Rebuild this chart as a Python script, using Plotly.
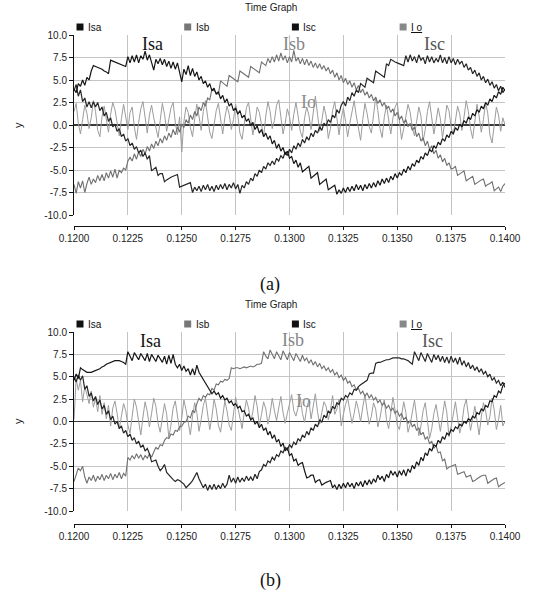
import plotly.graph_objects as go

# ---------------- data (sampled every 0.1 ms from t = 0.12 s) ----------------
T_START = 0.12
T_STEP = 0.0001

SERIES_NAMES = ["Isa", "Isb", "Isc", "I o"]

# ---- panel (a) ----
ISA_A = [4.0, 3.6, 4.6, 4.3, 5.0, 4.4, 5.3, 5.0, 6.0, 6.6, 6.5, 6.4, 6.3, 6.2, 6.0, 5.9, 5.7, 7.2, 7.1, 7.0, 6.9, 6.8, 6.7, 6.6, 6.5,
         7.6, 6.9, 7.7, 7.0, 7.8, 6.9, 7.7, 7.3, 8.2, 7.2, 7.8, 7.0, 6.1, 7.3, 6.8, 7.4, 6.7, 7.3, 6.5, 7.1, 6.3, 7.0, 6.2, 6.9, 5.9,
         4.8, 6.2, 5.6, 6.6, 5.5, 6.3, 5.4, 5.9, 5.0, 5.4, 4.6, 4.9, 4.2, 4.6, 3.8, 4.1, 3.4, 3.7, 2.9, 3.3, 2.5, 2.9, 2.1, 2.4, 1.6,
         1.9, 1.2, 1.6, 0.8, 1.1, 0.4, 0.7, -0.1, 0.3, -0.5, -0.1, -0.9, -0.5, -1.3, -0.9, -1.6, -1.2, -2.1, -1.7, -2.6, -2.1, -2.9, -2.5, -3.3, -2.9,
         -3.7, -3.5, -4.3, -3.9, -4.7, -4.2, -5.2, -5.0, -4.8, -4.6, -5.9, -5.7, -5.5, -5.3, -6.6, -6.4, -6.2, -6.0, -7.2, -7.0, -6.8, -6.7, -7.7, -7.2, -7.6,
         -7.0, -7.5, -6.9, -7.4, -6.8, -7.3, -6.6, -7.2, -6.7, -7.3, -6.6, -7.1, -6.5, -7.0, -6.4, -6.9, -6.2, -6.7, -6.0, -6.5, -5.9, -6.4, -5.7, -6.1, -5.4,
         -5.9, -5.3, -5.6, -4.9, -5.3, -4.6, -5.0, -4.3, -4.6, -3.9, -4.2, -3.5, -3.8, -3.1, -3.4, -2.7, -3.0, -2.3, -2.6, -1.9, -2.2, -1.5, -1.8, -1.1, -1.4,
         -0.7, -1.0, -0.3, -0.6, 0.1, -0.2, 0.5, 0.2, 0.9, 0.6, 1.3, 1.0, 1.7, 1.4, 2.1, 1.8, 2.5, 2.2, 2.9, 2.6, 3.3, 3.0, 3.7, 3.4, 4.2, 3.8]

ISB_A = [-6.6, -7.6, -6.3, -7.0, -6.2, -7.5, -6.5, -5.8, -6.6, -6.0, -6.4, -5.6, -6.2, -5.5, -6.2, -5.3, -5.9, -5.1, -5.8, -4.9, -5.9, -5.0, -5.3, -4.8, -5.0,
         -4.0, -3.6, -4.0, -3.2, -3.8, -3.0, -3.5, -2.7, -3.2, -2.4, -2.9, -2.1, -2.6, -1.8, -2.3, -1.5, -2.0, -1.2, -1.7, -0.9, -1.4, -0.5, -1.1, -0.2, -0.8,
         0.1, -0.3, 0.6, 0.2, 1.1, 0.6, 1.5, 1.0, 2.0, 1.6, 2.5, 2.1, 3.0, 2.8, 4.0, 3.8, 3.6, 3.4, 4.9, 4.7, 4.5, 4.3, 5.5, 5.3, 5.1,
         4.9, 4.8, 6.0, 5.8, 5.6, 5.4, 5.3, 6.5, 6.3, 6.1, 6.0, 5.8, 7.0, 6.8, 6.6, 7.4, 6.9, 7.6, 7.0, 7.8, 7.1, 8.0, 7.2, 7.7, 6.9,
         7.6, 7.0, 8.3, 7.1, 7.5, 6.8, 7.4, 6.7, 7.3, 6.6, 7.1, 6.4, 6.9, 6.3, 6.8, 6.2, 6.6, 6.0, 6.4, 5.7, 6.1, 5.3, 5.8, 5.0, 5.5,
         4.7, 5.2, 4.5, 4.9, 4.2, 4.7, 3.9, 4.4, 3.6, 4.0, 3.3, 3.7, 3.0, 3.4, 2.7, 3.1, 2.4, 2.8, 2.1, 2.5, 1.8, 2.1, 1.4, 1.8, 1.0,
         1.4, 0.6, 1.0, 0.2, 0.6, -0.2, 0.2, -0.6, -0.2, -1.3, -0.9, -1.8, -1.4, -2.3, -1.8, -2.7, -2.3, -3.2, -2.8, -3.7, -3.3, -4.1, -3.7, -4.5, -4.2,
         -4.9, -4.8, -4.6, -5.6, -5.4, -5.2, -5.1, -6.2, -6.0, -5.9, -5.7, -6.6, -6.4, -6.3, -6.1, -6.0, -6.8, -6.6, -6.5, -6.3, -7.3, -7.1, -6.9, -7.4, -6.8, -6.5]

ISC_A = [3.8, 4.5, 3.2, 3.9, 2.6, 3.0, 2.0, 2.6, 1.9, 2.6, 2.0, 2.5, 1.6, 2.0, 1.0, 1.4, 0.4, 0.8, -0.2, 0.1, -0.7, -0.4, -1.3, -1.0, -1.8,
         -1.5, -2.3, -2.0, -2.7, -2.4, -3.1, -2.8, -3.5, -3.1, -3.8, -3.4, -5.1, -4.9, -4.7, -5.6, -5.4, -5.4, -6.3, -6.1, -5.9, -5.8, -5.7, -5.6, -5.5, -6.9,
         -6.8, -6.7, -6.6, -6.5, -6.4, -7.5, -6.9, -7.3, -6.8, -7.4, -6.7, -7.2, -6.6, -7.3, -6.8, -7.4, -6.7, -7.2, -6.6, -7.1, -6.5, -7.2, -6.6, -7.0, -6.4,
         -7.1, -6.6, -7.6, -6.7, -7.0, -6.3, -6.6, -5.9, -6.2, -5.4, -5.7, -5.0, -5.3, -4.6, -4.9, -4.2, -4.5, -4.0, -4.4, -3.7, -4.0, -3.4, -3.7, -3.0, -3.4,
         -2.7, -3.1, -2.3, -2.7, -2.0, -2.4, -1.6, -2.0, -1.3, -1.7, -0.9, -1.3, -0.6, -0.9, -0.2, -0.6, 0.2, -0.1, 0.6, 0.3, 1.1, 0.8, 1.7, 1.3, 2.2,
         2.6, 2.1, 3.1, 2.7, 3.6, 3.2, 3.9, 3.6, 4.6, 4.4, 4.2, 5.2, 5.0, 4.8, 4.7, 6.0, 5.8, 5.6, 5.5, 5.3, 6.8, 6.6, 7.3, 7.1, 7.0,
         6.9, 6.8, 6.7, 6.6, 7.7, 7.0, 7.8, 7.1, 7.6, 6.9, 7.8, 7.2, 7.5, 6.8, 7.7, 7.0, 7.6, 6.9, 7.4, 7.0, 7.8, 6.9, 7.5, 6.8, 7.6,
         6.9, 7.4, 6.7, 7.3, 6.8, 7.1, 6.4, 6.8, 6.1, 6.4, 5.7, 6.1, 5.4, 5.8, 5.0, 5.4, 4.7, 5.1, 4.4, 4.8, 4.1, 4.5, 3.8, 4.3, 3.6, 4.0]

IO_A = [1.5, 2.4, 0.2, -1.0, 0.6, 2.2, 1.3, -0.4, 0.8, 2.7, 1.5, -0.6, -1.3, 0.9, 2.1, 0.4, -0.8, 1.2, 2.5, 1.7, 0.1, -1.2, 0.7, 2.3, 0.9,
        -0.5, 1.4, 2.0, -0.2, -1.6, 0.3, 1.8, 2.6, 0.6, -0.9, 1.1, 2.2, 0.8, -0.4, -1.4, 0.5, 2.4, 1.2, -0.7, 0.6, 1.9, 2.5, 0.3, -1.1, 0.9,
        -3.0, 0.4, 2.0, 1.4, -0.3, -1.3, 0.7, 2.3, 1.0, -0.6, 1.5, 2.7, 0.9, -0.8, -1.5, 0.2, 1.6, 2.4, 0.5, -1.0, 0.8, 2.1, 1.2, -0.5, 0.6,
        2.3, 1.1, -0.9, -1.6, 0.4, 1.9, 2.5, 0.7, -1.1, 0.3, 2.0, 1.4, -0.2, -1.3, 1.0, 2.6, 1.5, -0.4, 0.5, 2.2, 2.8, 0.6, -1.0, 0.2, 1.8,
        0.9, -0.6, 1.2, 2.5, 1.0, -0.7, -1.4, 0.8, 2.0, 1.1, -0.5, 1.3, 3.2, 1.2, -0.7, 0.5, 2.1, 1.0, -1.5, -0.4, 1.6, 2.6, 0.9, -1.1, 0.7,
        1.9, 0.4, -1.3, 0.2, 1.7, 2.7, 1.0, -0.6, -1.7, 0.6, 2.4, 1.3, -0.2, -0.9, 1.2, 3.1, 1.6, -0.4, -1.4, 0.9, 2.2, 0.6, -1.0, 0.8, 2.0,
        2.5, 0.3, -1.6, -0.4, 1.1, 2.3, 1.4, -0.3, -1.2, 0.6, 2.0, 1.0, -1.8, -0.5, 1.5, 2.6, 0.8, -1.0, 0.4, 1.9, 0.7, -1.4, 0.2, 2.2, 1.6,
        -0.2, -1.1, 0.5, 2.1, 1.2, -0.6, 0.9, 2.7, 1.5, -0.4, -1.5, 0.3, 2.3, 1.0, -0.8, 0.6, 2.5, 1.3, -1.1, -2.0, 0.4, 2.0, 1.1, -0.7, 0.8, 0.0]

# ---- panel (b) ----
ISA_B = [4.6, 5.3, 4.8, 6.0, 5.8, 5.6, 5.5, 5.5, 5.5, 5.6, 5.7, 5.8, 5.9, 6.1, 6.2, 6.4, 6.5, 6.6, 6.7, 6.8, 6.8, 6.8, 6.7, 6.6, 6.4,
         7.8, 7.3, 6.8, 7.7, 7.3, 6.9, 7.6, 7.2, 6.8, 7.6, 6.7, 7.5, 7.1, 6.7, 7.4, 7.0, 6.6, 7.3, 6.4, 7.4, 6.5, 7.5, 6.4, 6.0, 6.4,
         5.7, 6.2, 5.6, 5.9, 5.2, 5.9, 5.2, 6.3, 5.5, 5.1, 4.8, 4.3, 4.0, 3.6, 3.1, 3.4, 3.0, 3.2, 2.6, 2.9, 2.4, 2.6, 2.1, 2.3, 1.8,
         2.0, 1.5, 1.7, 1.1, 1.2, 0.6, 0.8, 0.2, 0.4, -0.3, 0.0, -0.7, -0.3, -1.0, -0.7, -1.5, -1.1, -1.9, -1.5, -2.3, -2.0, -2.8, -2.4, -3.3, -2.9,
         -3.8, -3.6, -4.4, -4.2, -4.9, -4.7, -4.6, -5.5, -6.3, -6.2, -6.0, -6.0, -6.8, -6.6, -6.5, -7.1, -6.9, -6.8, -6.7, -6.6, -7.4, -7.1, -7.6, -7.0, -7.5,
         -6.9, -7.4, -6.8, -7.3, -6.9, -7.5, -6.8, -7.2, -6.7, -7.3, -6.6, -7.1, -6.5, -7.0, -6.4, -6.8, -6.0, -6.5, -6.1, -6.7, -5.9, -6.3, -5.5, -6.0, -5.6,
         -6.2, -5.5, -6.0, -5.4, -6.1, -5.3, -5.7, -4.9, -5.3, -4.5, -4.9, -4.0, -4.4, -3.5, -3.8, -3.0, -3.3, -2.6, -2.8, -2.1, -2.4, -1.7, -2.0, -1.3, -1.5,
         -0.9, -1.1, -0.6, -0.8, -0.3, -0.5, 0.0, -0.2, 0.3, 0.1, 0.6, 0.4, 1.0, 0.8, 1.4, 1.2, 1.8, 1.6, 2.3, 2.2, 2.9, 2.7, 3.4, 3.2, 4.0, 4.3]

ISB_B = [-6.7, -5.8, -5.2, -5.5, -5.0, -6.2, -6.9, -6.2, -6.6, -6.0, -6.7, -6.1, -6.5, -5.9, -6.6, -6.0, -6.4, -5.8, -6.5, -5.9, -6.3, -5.7, -6.4, -5.8, -6.1,
         -4.0, -4.3, -3.8, -4.2, -3.6, -4.1, -3.7, -4.3, -3.8, -4.1, -3.6, -4.0, -3.4, -2.9, -3.1, -2.6, -2.7, -2.1, -1.8, -1.9, -1.4, -1.5, -1.0, -1.1, -0.6,
         -0.5, -0.1, 0.0, 0.6, 0.4, 1.2, 1.0, 2.0, 2.6, 2.3, 2.9, 2.7, 3.1, 3.0, 3.7, 3.5, 4.2, 4.1, 4.5, 4.4, 4.7, 4.6, 4.8, 6.0, 5.9,
         6.0, 6.0, 5.9, 6.0, 6.1, 6.0, 6.1, 6.2, 6.1, 6.2, 6.4, 6.4, 6.5, 7.8, 7.3, 7.0, 8.0, 7.4, 7.0, 7.8, 7.3, 6.9, 7.9, 7.3, 6.9,
         7.7, 7.2, 6.8, 7.6, 7.1, 6.7, 7.4, 6.8, 7.1, 6.5, 6.9, 6.3, 6.7, 6.1, 6.5, 5.9, 6.2, 5.7, 6.0, 5.5, 5.8, 5.2, 5.5, 4.9, 5.2,
         4.6, 4.9, 4.3, 4.5, 3.9, 4.1, 3.5, 3.7, 3.1, 3.4, 2.8, 3.2, 2.6, 3.0, 2.4, 2.7, 2.1, 2.4, 1.8, 2.1, 1.5, 1.8, 1.2, 1.5, 0.9,
         1.2, 0.6, 0.9, 0.2, 0.5, -0.2, 0.1, -0.6, -0.3, -1.0, -0.7, -1.5, -1.2, -2.0, -1.7, -2.5, -2.2, -3.0, -2.7, -3.5, -3.4, -4.4, -4.2, -5.3, -5.1,
         -5.0, -4.9, -4.8, -5.9, -5.8, -5.7, -5.6, -6.2, -6.1, -6.0, -6.7, -6.6, -6.4, -6.2, -6.1, -6.0, -6.0, -6.9, -6.7, -6.5, -6.4, -6.3, -7.3, -7.1, -6.9, -6.8]

ISC_B = [5.0, 4.4, 5.2, 4.6, 5.1, 3.6, 4.0, 2.8, 3.2, 2.3, 2.8, 1.9, 2.4, 1.4, 1.8, 0.8, 1.2, 0.2, 0.6, -0.3, 0.0, -0.8, -0.5, -1.3, -1.0,
         -1.7, -1.4, -2.1, -1.8, -2.5, -2.2, -2.9, -2.6, -3.3, -3.0, -3.6, -4.5, -4.4, -4.3, -5.0, -5.5, -5.2, -4.8, -5.7, -6.0, -6.3, -6.5, -6.7, -6.5, -6.6,
         -6.8, -7.0, -7.4, -7.2, -6.9, -6.6, -6.2, -5.7, -6.4, -6.9, -7.4, -7.0, -7.7, -7.1, -7.6, -7.0, -7.6, -7.1, -7.5, -6.9, -7.4, -7.0, -6.0, -6.8, -6.3,
         -6.9, -6.2, -6.8, -6.3, -6.7, -6.1, -6.6, -6.2, -6.6, -5.9, -6.4, -5.6, -5.4, -4.8, -5.0, -4.4, -4.6, -4.0, -4.3, -3.7, -3.9, -3.3, -3.5, -2.9, -3.2,
         -2.6, -2.9, -2.3, -2.6, -1.9, -2.2, -1.5, -1.8, -1.1, -1.5, -0.7, -1.0, -0.3, -0.6, 0.2, -0.1, 0.7, 0.4, 1.2, 0.9, 1.7, 1.4, 2.1, 1.9, 2.6,
         2.4, 2.9, 2.7, 3.2, 3.0, 3.6, 3.5, 3.9, 4.1, 4.3, 4.5, 4.6, 5.3, 5.4, 5.4, 6.5, 6.6, 6.6, 6.7, 6.8, 6.9, 6.9, 7.0, 7.1, 7.1,
         7.1, 7.1, 7.0, 7.0, 6.9, 6.8, 6.6, 6.4, 7.8, 7.2, 6.8, 7.7, 7.1, 6.7, 7.6, 7.0, 6.6, 7.5, 6.9, 7.4, 6.7, 7.3, 6.6, 7.2, 6.5,
         7.3, 6.6, 7.1, 6.4, 7.2, 6.3, 6.8, 6.1, 6.6, 5.9, 6.3, 5.7, 6.1, 5.5, 5.9, 5.3, 5.6, 5.0, 5.3, 4.6, 4.9, 4.3, 4.6, 4.0, 4.4, 3.8]

IO_B = [0.2, 4.8, 3.5, 4.6, 2.2, 3.9, 3.0, 2.0, 3.4, 1.6, 2.6, 1.1, 2.9, 0.8, 2.1, 0.3, 1.8, -0.5, 1.5, 2.3, 0.9, -0.8, 0.6, 2.0, 1.2,
        -0.4, -1.3, 0.7, 2.5, 1.6, 0.0, -1.5, 0.5, 2.2, 1.1, -0.6, 0.9, 2.6, 1.7, -0.2, -1.2, 0.6, 2.0, 0.8, -1.8, -0.4, 1.5, 2.3, 0.7, -1.0,
        0.4, 2.4, 1.3, -0.3, -1.5, 0.6, 2.1, 1.0, -1.1, 0.2, 1.8, 2.6, 0.8, -0.9, 0.5, 2.5, 1.4, -0.4, -1.2, 0.9, 2.3, 1.2, -0.4, -1.0, 0.7,
        2.7, 1.6, 0.3, -0.8, 1.0, 2.4, 1.5, 0.0, 1.1, 2.9, 1.7, -0.5, 0.8, 2.2, 1.4, -0.3, 0.9, 2.6, 1.2, 0.1, 1.5, 2.8, 1.0, -0.2, 0.9,
        2.1, 3.0, 1.2, 0.6, 1.6, 2.7, 0.9, -0.1, 1.5, 2.4, 0.3, 1.7, 3.1, 1.1, -0.3, 1.0, 2.2, 1.7, 0.2, 1.3, 2.9, 0.8, 1.4, 2.5, -0.5,
        0.8, 1.9, 2.6, 1.0, -0.2, 0.9, 2.3, 1.3, 0.0, 1.6, 3.0, 1.2, -0.3, 0.6, 2.1, 1.4, -0.6, 0.4, 1.8, 2.4, 0.2, -0.8, 1.0, 2.7, 1.3,
        -0.4, -0.9, 0.6, 2.2, 1.0, -1.2, -0.3, 1.3, 2.4, 0.5, -1.6, -0.5, 1.2, 2.1, 0.3, -1.9, -0.8, 0.9, 1.9, 0.2, -1.1, 0.6, 2.3, 1.0, -1.7,
        -0.6, 1.0, 2.2, 0.4, -1.3, -0.2, 1.6, 2.5, 0.7, -1.0, 0.3, 1.7, 0.1, -1.5, 0.5, 2.1, 1.2, -0.4, 0.6, 2.6, 1.3, -0.9, 0.2, 1.8, -0.5, 0.0]

X_TICKS = [0.12, 0.1225, 0.125, 0.1275, 0.13, 0.1325, 0.135, 0.1375, 0.14]
X_LABELS = ["0.1200", "0.1225", "0.1250", "0.1275", "0.1300", "0.1325", "0.1350", "0.1375", "0.1400"]
Y_TICKS = [-10, -7.5, -5, -2.5, 0, 2.5, 5, 7.5, 10]
Y_LABELS = ["-10.0", "-7.5", "-5.0", "-2.5", "0.0", "2.5", "5.0", "7.5", "10.0"]
PANEL_TAGS = ["(a)", "(b)"]
CHART_TITLE = "Time Graph"

# ---------------- styling / layout ----------------
W, H = 536, 592


def px(x):
    return x / W


def py(y):
    return 1 - y / H


LINE_COLORS = {"Isa": "#161616", "Isb": "#707070", "Isc": "#262626", "I o": "#9c9c9c"}
LINE_WIDTHS = {"Isa": 1.2, "Isb": 1.1, "Isc": 1.2, "I o": 1.0}
LEGEND_COLORS = {"Isa": "#111111", "Isb": "#777777", "Isc": "#111111", "I o": "#888888"}
DRAW_ORDER = ["I o", "Isb", "Isc", "Isa"]

SANS = "Liberation Sans, Arial, sans-serif"
SERIF = "Liberation Serif, Times New Roman, serif"

panels = [
    {"xa": "x", "ya": "y", "data": {"Isa": ISA_A, "Isb": ISB_A, "Isc": ISC_A, "I o": IO_A},
     "top": 35, "bottom": 215, "axis_y": 226, "title_y": 7.5, "legend_y": 27, "tag_y": 285,
     "ytitle_y": 125,
     "labels": [("Isa", 152, 44, "#111111"), ("Isb", 294, 44, "#858585"),
                ("Isc", 434, 44, "#555555"), ("Io", 308, 102, "#8c8c8c")]},
    {"xa": "x2", "ya": "y2", "data": {"Isa": ISA_B, "Isb": ISB_B, "Isc": ISC_B, "I o": IO_B},
     "top": 332, "bottom": 511, "axis_y": 524, "title_y": 304, "legend_y": 324, "tag_y": 580,
     "ytitle_y": 421,
     "labels": [("Isa", 150, 341, "#111111"), ("Isb", 293, 340, "#858585"),
                ("Isc", 432, 341, "#555555"), ("Io", 303, 401, "#8c8c8c")]},
]

fig = go.Figure()
annotations = []
shapes = []
layout_axes = {}

for k, p in enumerate(panels):
    for name in DRAW_ORDER:
        vals = p["data"][name]
        t = [round(T_START + T_STEP * i, 6) for i in range(len(vals))]
        fig.add_trace(go.Scatter(
            x=t, y=vals, mode="lines", name=name, showlegend=False,
            line=dict(color=LINE_COLORS[name], width=LINE_WIDTHS[name]),
            xaxis=p["xa"], yaxis=p["ya"], hoverinfo="skip"))

    xkey = "xaxis" if k == 0 else "xaxis2"
    ykey = "yaxis" if k == 0 else "yaxis2"
    layout_axes[xkey] = dict(
        domain=[px(74), px(505)], anchor="free", position=py(p["axis_y"]),
        range=[0.12, 0.14], tickmode="array", tickvals=X_TICKS, ticktext=X_LABELS,
        showgrid=True, gridcolor="#c4c4c4", gridwidth=1, zeroline=False,
        showline=True, linecolor="#111111", linewidth=1,
        ticks="outside", ticklen=3, tickcolor="#111111", automargin=False,
        tickfont=dict(family=SANS, size=10, color="#222222"),
    )
    layout_axes[ykey] = dict(
        domain=[py(p["bottom"]), py(p["top"])], anchor=p["xa"],
        range=[-10, 10], tickmode="array", tickvals=Y_TICKS, ticktext=Y_LABELS,
        showgrid=True, gridcolor="#c4c4c4", gridwidth=1,
        zeroline=True, zerolinecolor="#3a3a3a", zerolinewidth=1.5,
        showline=True, linecolor="#111111", linewidth=1,
        ticks="outside", ticklen=4, tickcolor="#111111", automargin=False,
        tickfont=dict(family=SANS, size=10, color="#222222"),
    )

    annotations.append(dict(text=CHART_TITLE, x=px(271), y=py(p["title_y"]), xref="paper", yref="paper",
                            showarrow=False, xanchor="center", yanchor="middle",
                            font=dict(family=SANS, size=10, color="#222222")))
    for j, name in enumerate(SERIES_NAMES):
        cx = 80 + j * 107.7
        ly = p["legend_y"]
        shapes.append(dict(type="rect", xref="paper", yref="paper",
                           x0=px(cx - 3.5), x1=px(cx + 3.5), y0=py(ly + 3.5), y1=py(ly - 3.5),
                           fillcolor=LEGEND_COLORS[name], line=dict(width=0)))
        label = "<u>" + name + "</u>" if name == "I o" else name
        annotations.append(dict(text=label, x=px(cx + 6), y=py(ly), xref="paper", yref="paper",
                                showarrow=False, xanchor="left", yanchor="middle",
                                font=dict(family=SANS, size=10, color="#111111")))
    annotations.append(dict(text="y", x=px(18), y=py(p["ytitle_y"]), xref="paper", yref="paper",
                            showarrow=False, textangle=-90, xanchor="center", yanchor="middle",
                            font=dict(family=SANS, size=11, color="#222222")))
    for txt, lx, ly, col in p["labels"]:
        annotations.append(dict(text=txt, x=px(lx), y=py(ly), xref="paper", yref="paper",
                                showarrow=False, xanchor="center", yanchor="middle",
                                font=dict(family=SERIF, size=18, color=col)))
    annotations.append(dict(text=PANEL_TAGS[k], x=px(270), y=py(p["tag_y"]), xref="paper", yref="paper",
                            showarrow=False, xanchor="center", yanchor="middle",
                            font=dict(family=SERIF, size=18, color="#111111")))

fig.update_layout(
    template="none",
    width=W, height=H, margin=dict(l=0, r=0, t=0, b=0, pad=0, autoexpand=False),
    paper_bgcolor="white", plot_bgcolor="white",
    showlegend=False, annotations=annotations, shapes=shapes,
    **layout_axes,
)

# remove the browser's default 8 px body margin so the figure fills the window exactly
fig.write_html("out.html",
               config={"displayModeBar": False, "staticPlot": True},
               post_script="document.body.style.margin='0';document.body.style.padding='0';")
